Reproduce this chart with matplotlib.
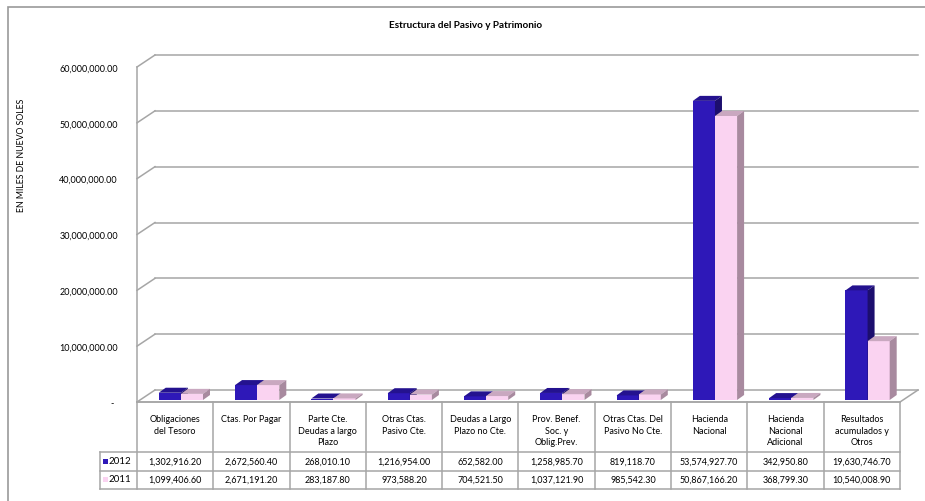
import numpy as np
import matplotlib
matplotlib.use('Agg')
import matplotlib.pyplot as plt
from matplotlib.patches import Polygon, Rectangle

plt.rcParams['font.family'] = ['Lato', 'DejaVu Sans']

# ================= Data =================
categories = ['Obligaciones\ndel Tesoro', 'Ctas. Por Pagar', 'Parte Cte.\nDeudas a largo\nPlazo',
              'Otras Ctas.\nPasivo Cte.', 'Deudas a Largo\nPlazo no Cte.', 'Prov. Benef.\nSoc. y\nOblig.Prev.',
              'Otras Ctas. Del\nPasivo No Cte.', 'Hacienda\nNacional', 'Hacienda\nNacional\nAdicional',
              'Resultados\nacumulados y\nOtros']
values_2012 = [1302916.20, 2672560.40, 268010.10, 1216954.00, 652582.00,
               1258985.70, 819118.70, 53574927.70, 342950.80, 19630746.70]
values_2011 = [1099406.60, 2671191.20, 283187.80, 973588.20, 704521.50,
               1037121.90, 985542.30, 50867166.20, 368799.30, 10540008.90]
series_names = ['2012', '2011']
yticks = [0, 10e6, 20e6, 30e6, 40e6, 50e6, 60e6]

# colours: front, top, side
col_2012 = ('#2e18b8', '#24128f', '#1c0e6e')
col_2011 = ('#fad3f1', '#c9a8c0', '#a88a9f')
grid_col = '#a6a6a6'

W, H = 925, 502
fig = plt.figure(figsize=(W / 100, H / 100), dpi=100)

def px_rect(x0, y0, x1, y1):
    # pixel box (top-left origin) -> figure fraction
    return [x0 / W, 1 - y1 / H, (x1 - x0) / W, (y1 - y0) / H]

# outer chart border
fig.patches.append(Rectangle((8 / W, -0.1), 1.2, 1 - 8 / H + 0.1, transform=fig.transFigure,
                             fill=False, edgecolor='#999999', linewidth=1.2))

fig.text(466 / W, 1 - 25 / H, 'Estructura del Pasivo y Patrimonio', ha='center', va='center',
         fontsize=7.2, fontweight='bold')
fig.text(22 / W, 1 - 155 / H, 'EN MILES DE NUEVO SOLES', rotation=90, ha='center', va='center',
         fontsize=6.3)

# ================= Plot area =================
n = len(categories)
ymax = 60e6
ax = fig.add_axes(px_rect(137, 68, 900, 403))
ax.set_xlim(0, n)
ax.set_ylim(0, ymax)
ax.axis('off')

px_x = (900 - 137) / n          # pixels per category
px_y = (403 - 68) / ymax        # pixels per value unit
DX, DY = 18 / px_x, 12 / px_y   # wall depth
BDX, BDY = 7 / px_x, 5 / px_y   # bar depth
base = 2 / px_y                 # bars sit slightly behind the front edge

# walls and gridlines
for t in yticks:
    ax.plot([0, DX], [t, t + DY], color=grid_col, lw=1.1, clip_on=False, zorder=1)
    ax.plot([DX, n + DX], [t + DY, t + DY], color=grid_col, lw=1.1, clip_on=False, zorder=1)
ax.plot([0, 0], [0, ymax], color=grid_col, lw=1.1, clip_on=False, zorder=1)
ax.plot([0, n], [0, 0], color=grid_col, lw=1.1, clip_on=False, zorder=1)
ax.plot([n, n + DX], [0, DY], color=grid_col, lw=1.1, clip_on=False, zorder=1)

# tick labels
for t in yticks:
    yy = 403 - t * px_y
    if t == 0:
        fig.text(112 / W, 1 - (yy + 1) / H, '-', ha='center', va='center', fontsize=6.5)
    else:
        fig.text(118 / W, 1 - (yy + 1) / H, f'{t:,.2f}', ha='right', va='center', fontsize=6.5)

def bar3d(x0, w, v, cols, z):
    f, tp, sd = cols
    y0, y1 = base, base + v
    ax.add_patch(Polygon([(x0, y0), (x0 + w, y0), (x0 + w, y1), (x0, y1)], closed=True,
                         facecolor=f, edgecolor='none', clip_on=False, zorder=z))
    ax.add_patch(Polygon([(x0, y1), (x0 + w, y1), (x0 + w + BDX, y1 + BDY), (x0 + BDX, y1 + BDY)],
                         closed=True, facecolor=tp, edgecolor='none', clip_on=False, zorder=z))
    ax.add_patch(Polygon([(x0 + w, y0), (x0 + w + BDX, y0 + BDY), (x0 + w + BDX, y1 + BDY), (x0 + w, y1)],
                         closed=True, facecolor=sd, edgecolor='none', clip_on=False, zorder=z))

bw = 0.29
for i in range(n):
    bar3d(i + 0.285, bw, values_2012[i], col_2012, 3 + i * 2)
    bar3d(i + 0.285 + bw, bw, values_2011[i], col_2011, 4 + i * 2)

# ================= Data table =================
tax = fig.add_axes(px_rect(100, 403, 900, 490))
leg_w = 37 / px_x
tax.set_xlim(-leg_w, n)
tax.set_ylim(87, 0)
tax.axis('off')
tc = '#a6a6a6'
row_y = [0, 50, 68.5, 86.5]
# horizontal lines
tax.plot([0, n], [0, 0], color=tc, lw=1.1, clip_on=False)
for yy in row_y[1:]:
    tax.plot([-leg_w, n], [yy, yy], color=tc, lw=1.1, clip_on=False)
# vertical lines
for i in range(n + 1):
    tax.plot([i, i], [0, row_y[-1]], color=tc, lw=1.1, clip_on=False)
tax.plot([-leg_w, -leg_w], [row_y[1], row_y[-1]], color=tc, lw=1.1, clip_on=False)

for i, cat in enumerate(categories):
    tax.text(i + 0.5, 12.5, cat, ha='center', va='top', fontsize=6.5, linespacing=1.35)
    tax.text(i + 0.5, 59.5, f'{values_2012[i]:,.2f}', ha='center', va='center', fontsize=6.5)
    tax.text(i + 0.5, 77.5, f'{values_2011[i]:,.2f}', ha='center', va='center', fontsize=6.5)

for name, cols, yc in [(series_names[0], col_2012, 59), (series_names[1], col_2011, 77)]:
    tax.add_patch(Rectangle((-leg_w + 3 / px_x, yc - 2.5), 5 / px_x, 5, facecolor=cols[0],
                            edgecolor='none', clip_on=False))
    tax.text(-leg_w + 8.5 / px_x, yc - 0.5, name, ha='left', va='center', fontsize=7)

fig.savefig('out.png', dpi=100)
